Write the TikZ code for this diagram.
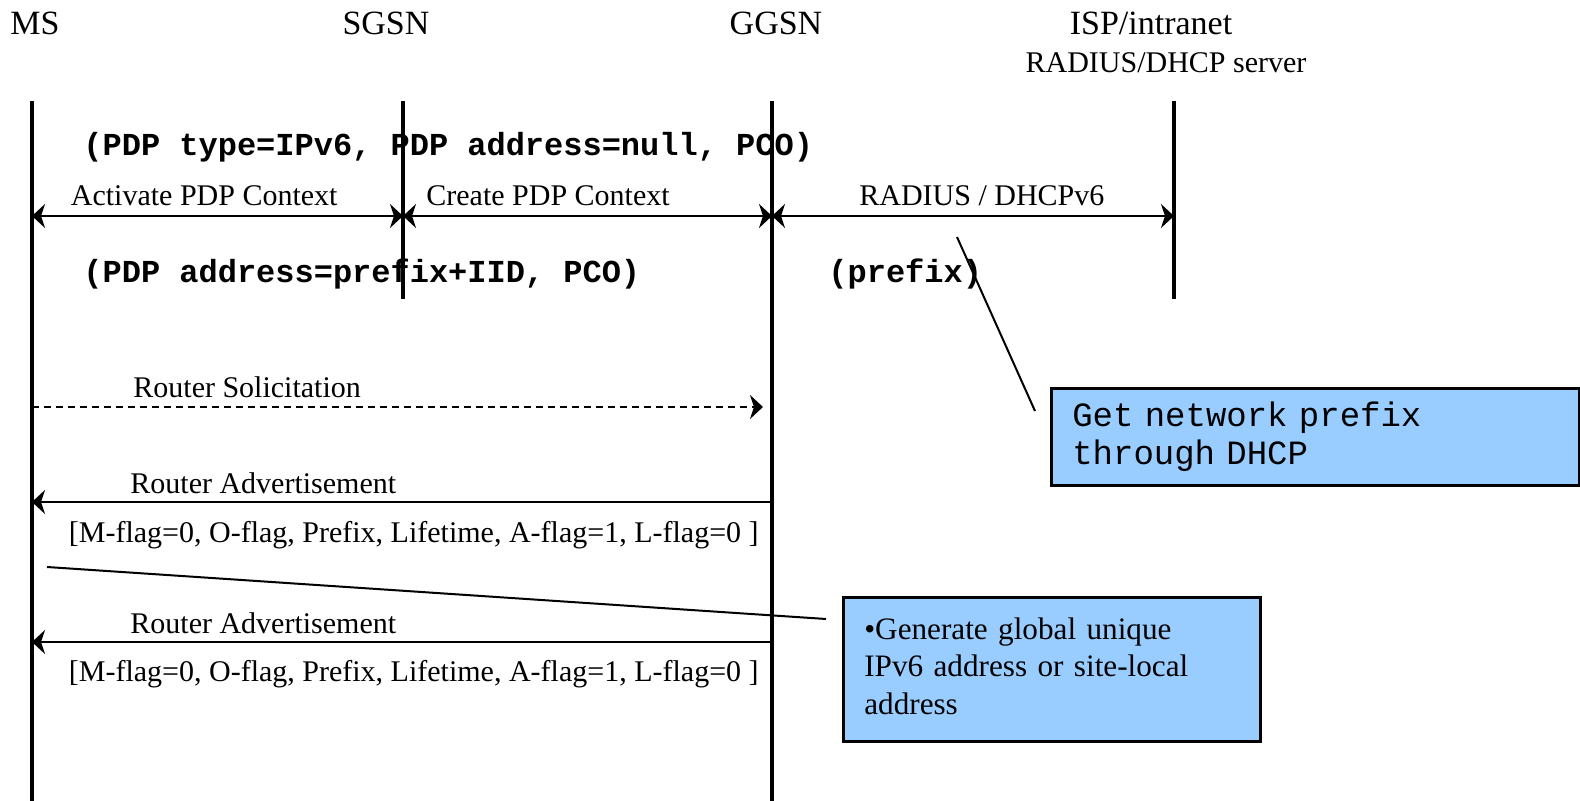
\documentclass[tikz,border=0pt]{standalone}
\usepackage{fontspec}
\setmainfont{Liberation Serif}
\setmonofont{Liberation Mono}
\usetikzlibrary{positioning,arrows.meta}

\definecolor{notefill}{HTML}{99CCFF}

\begin{document}
\begin{tikzpicture}[
  x=0.5pt, y=-0.5pt,
  >={Stealth[length=6.5pt,width=12pt,inset=2pt]},
  head/.style={inner sep=0pt, font=\fontsize{17}{20}\selectfont},
  lbl/.style={inner sep=0pt, anchor=west, font=\fontsize{15}{18}\selectfont},
  param/.style={inner sep=0pt, anchor=west, font=\fontsize{16}{18}\selectfont\ttfamily\bfseries},
  life/.style={line width=2.1pt},
  msg/.style={line width=1.1pt},
  note/.style={draw, line width=1.3pt, fill=notefill, align=left, anchor=north west, inner xsep=10.5pt, inner ysep=0pt},
  pointer/.style={line width=1pt}
]
\useasboundingbox (0,0) rectangle (1580,801);

% entities
\node[head] (ms) at (35,23) {MS};
\node[head] (sgsn) at (386,23) {SGSN};
\node[head] (ggsn) at (776,23) {GGSN};
\node[head] (isp) at (1151,23) {ISP/intranet};
\node[lbl, anchor=center] (srv) at (1166,63) {RADIUS/DHCP server};

% lifeline ends
\coordinate (ms top) at (32,101);
\coordinate (ms bot) at (32,801);
\coordinate (sgsn top) at (403,101);
\coordinate (sgsn bot) at (403,299);
\coordinate (ggsn top) at (772,101);
\coordinate (ggsn bot) at (772,801);
\coordinate (isp top) at (1174,101);
\coordinate (isp bot) at (1174,299);

% message levels
\coordinate (m1) at (0,216);
\coordinate (m2) at (0,407);
\coordinate (m3) at (0,502);
\coordinate (m4) at (0,642);

% parameters (under the lifelines)
\node[param] (req) at (83,147) {(PDP type=IPv6, PDP address=null, PCO)};
\node[param] (resp) at (83,274) {(PDP address=prefix+IID, PCO)};
\node[param] (pfx) at (828,274) {(prefix)};

\draw[life] (ms top) -- (ms bot);
\draw[life] (sgsn top) -- (sgsn bot);
\draw[life] (ggsn top) -- (ggsn bot);
\draw[life] (isp top) -- (isp bot);

% PDP context activation
\node[lbl] (act) at (70.5,196) {Activate PDP Context};
\node[lbl] (crt) at (426,196) {Create PDP Context};
\node[lbl] (rad) at (859,196) {RADIUS / DHCPv6};
\draw[msg,<->] (ms top |- m1) -- (sgsn top |- m1);
\draw[msg,<->] (sgsn top |- m1) -- (ggsn top |- m1);
\draw[msg,<->] (ggsn top |- m1) -- (isp top |- m1);

% router discovery
\node[lbl] (rs) at (133,387) {Router Solicitation};
\draw[msg,->,dash pattern=on 3.5pt off 2.5pt,shorten >=4.5pt] (ms top |- m2) -- (ggsn top |- m2);

\node[lbl] (ra1) at (130,483) {Router Advertisement};
\node[lbl] (flags1) at (68.5,535) {[M-flag=0, O-flag, Prefix, Lifetime, A-flag=1, L-flag=0 ]};
\draw[msg,->] (ggsn top |- m3) -- (ms top |- m3);

\node[lbl] (ra2) at (130,623) {Router Advertisement};
\node[lbl] (flags2) at (68.5,674) {[M-flag=0, O-flag, Prefix, Lifetime, A-flag=1, L-flag=0 ]};
\draw[msg,->] (ggsn top |- m4) -- (ms top |- m4);

% notes
\node[note, text width=243pt, minimum height=48.5pt, font=\fontsize{17}{19}\selectfont\ttfamily] (dhcp) at (1050,387) {Get network prefix\\through DHCP};
\node[note, text width=187.5pt, minimum height=72pt, font=\fontsize{15.6}{18.75}\selectfont] (gen) at (842,596) {\textbullet Generate global unique\\IPv6 address or site-local\\address\vspace{3pt}};

\coordinate (p1a) at (957,237);
\coordinate (p1b) at (1035,411);
\coordinate (p2a) at (47,567);
\coordinate (p2b) at (826,619);
\draw[pointer] (p1a) -- (p1b);
\draw[pointer] (p2a) -- (p2b);
\end{tikzpicture}
\end{document}
